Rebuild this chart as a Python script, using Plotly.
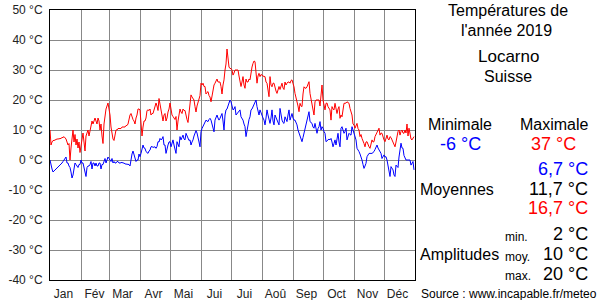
import plotly.graph_objects as go

# ---- data -------------------------------------------------------------
month_names = ["Jan", "Fév", "Mar", "Avr", "Mai", "Jui", "Jui", "Aoû", "Sep", "Oct", "Nov", "Déc"]
month_starts = [0, 31, 59, 90, 120, 151, 181, 212, 243, 273, 304, 334, 365]

tmax = [
    # Jan
    10, 5, 6, 6.5, 6.5, 6.7, 6.7, 7, 7, 7, 7, 7.2, 7.5, 7.5, 7.8, 7.5, 7, 6, 5, 5.5, 0, 4, 7, 10, 6, 8.5, 5, 7, 4, 6, 2.5,
    # Feb
    5, 7, 9, 6, 3, 8, 9, 10, 8, 10, 11, 13, 12, 13.5, 14, 13, 12, 14, 13, 10, 12, 8, 5.5, 12, 15.5, 17, 18, 19,
    # Mar
    17, 15, 11, 8, 7, 6.5, 9, 10, 10, 10.5, 10.5, 10.5, 10.5, 11, 11, 11, 11, 11.5, 11.5, 12, 14, 15, 15.5, 14, 13.5, 13, 12, 14, 15, 17, 17,
    # Apr
    16.7, 13, 8, 11, 13, 13, 14, 16.5, 16.7, 16.5, 17, 15, 15.5, 15.5, 17, 17.5, 19, 18, 16.5, 20.5, 18.5, 16, 14, 13, 15, 15.5, 13, 14, 16, 17,
    # May
    19, 16.5, 15, 14.5, 14, 13.5, 14.5, 10, 13, 15.5, 17, 16, 15.5, 17, 16.5, 16.5, 14.5, 13.5, 12.5, 15, 18, 21.7, 21, 20.5, 20, 17.8, 16, 18, 19, 20.5, 21.5,
    # Jun
    25.6, 25, 25.6, 24.5, 24.5, 22, 22.5, 22.8, 21.5, 21, 19.4, 21.5, 23.5, 25, 25.6, 26.7, 27, 26, 26, 26, 24.5, 22, 25, 26.7, 30, 32, 37, 34, 31, 30.5,
    # Jul
    30.5, 30, 28.3, 29, 30, 30, 30, 30, 28, 25.6, 24.5, 26, 27.8, 25, 23.9, 27, 26, 26, 27, 26.7, 30, 31, 32.2, 33, 32.8, 30, 25.6, 28, 28.9, 27.8, 28.5,
    # Aug
    28.3, 28, 27.8, 27.8, 26, 25.6, 23, 21.1, 27.8, 25, 24.4, 25.6, 25.6, 24, 23, 22.2, 24, 24.5, 23.5, 24.5, 25.6, 24, 23.5, 26, 25, 25.6, 26, 26, 25.6, 26.5, 26.7,
    # Sep
    25.5, 24.4, 22.2, 21, 20, 18, 16.1, 18.9, 18, 17.8, 22, 24.4, 24, 23.9, 24.4, 25, 26.1, 22.2, 20, 17.8, 16, 15, 19.4, 20, 20, 20, 20, 18, 22, 25,
    # Oct
    20, 18, 16.7, 18.9, 19, 17.8, 17, 16.7, 13.3, 17.8, 17, 16.7, 18.9, 17, 15.5, 17, 17.8, 13.9, 15, 14.4, 17, 18.9, 18.9, 19, 19.4, 19, 18.9, 17.2, 16, 15, 12,
    # Nov
    11.7, 10.6, 11.5, 12.2, 10.5, 10, 7.8, 8.5, 7.2, 6.5, 5.5, 4.4, 6, 6.1, 5, 4.4, 3.9, 5.5, 6.7, 6, 6.1, 7.8, 8.5, 8.9, 9.5, 10.6, 8.3, 9, 8.9, 7.5,
    # Dec
    6.7, 6.1, 7.5, 8.3, 7, 6.7, 7.8, 7.5, 6.7, 6, 5, 4.4, 6, 7.8, 9.5, 10, 8.3, 9.5, 10, 9, 8.9, 10, 9, 12, 8, 10.6, 8.9, 7, 6.7, 7.5, 7.8,
]

tmin = [
    # Jan
    0, -2, -3, -4, -3.7, -3.3, -3, -2.7, -2.3, -2, -1.7, -1.3, -1, -0.5, 0, 0.5, 1, -1, -1, -2, -2.5, -4, -6, -5, -2, -1, -1.5, -2, -2.5, -1.5, -1.5,
    # Feb
    0, -1, -1, -3, -4.5, -5.5, -2.5, -2, -2, -1.5, -0.5, -3, -1, -1, -2, -1, -2, -2, -1, -1, -3, -1.5, -1.5, -0.5, 0.5, -1, 0, 1,
    # Mar
    0.5, 0, -0.5, 0.5, -1, -0.5, -1, -1, -0.5, -0.5, -1, -1, -0.8, -0.8, -1, -1, -1.3, -1.3, -1.5, -1.5, -1.5, -2, 0.5, 2, 3, 1.5, 0.5, -0.5, 0, 0, 2,
    # Apr
    1.1, 2.2, 4, 5, 4, 3.9, 2.8, 2.5, 2.2, 3, 3.3, 4.4, 4.5, 4.2, 4.4, 4.4, 3.9, 4.5, 6.1, 6, 7.2, 6.7, 7, 7.8, 5, 5, 2.2, 4, 5, 6,
    # May
    6.1, 4.4, 5.5, 6.7, 5, 3.9, 2.2, 6.1, 5, 4.4, 7.8, 6.7, 7.5, 8.3, 7, 6.7, 8.9, 8, 7.8, 6.5, 6.7, 5, 6, 6.7, 8, 8.9, 9.8, 9, 7.8, 6, 4.4,
    # Jun
    9.4, 10.5, 11.1, 12, 12.8, 13.3, 13, 12.8, 13.5, 13.9, 13.3, 12, 10.6, 9.4, 13.3, 14.5, 15, 14, 13.3, 13.9, 14.5, 15.5, 13, 10, 15, 16.7, 17, 17.8, 19, 20,
    # Jul
    19.4, 18, 16.7, 17, 17.8, 15, 15.5, 16.1, 16.5, 16.7, 14.4, 14, 13.3, 12, 11.1, 7.8, 10, 12.2, 13.5, 14.4, 16.7, 17, 17.8, 18.5, 19.4, 20, 17.8, 16, 15, 16.7, 15.5,
    # Aug
    15, 14, 13.3, 11.7, 14, 16.7, 15, 13.3, 12.2, 14, 16.7, 13, 11.7, 15, 14, 13.3, 12.5, 11.7, 17.2, 15, 13.3, 12.5, 12.2, 14.4, 13.5, 12.8, 15, 16.7, 13.3, 14.5, 15.5,
    # Sep
    14, 13.3, 13.3, 12.5, 11.7, 10, 8.9, 7.8, 7, 6.1, 7.5, 8.9, 10, 11.5, 12.8, 14, 16.1, 12.8, 12.5, 12.2, 11, 10.6, 12.2, 10, 8.9, 10.5, 11.1, 12.8, 10, 11.1,
    # Oct
    10.6, 9.5, 8.9, 6.1, 6.5, 6.7, 7, 6.7, 7.2, 6, 4.4, 5.5, 6.7, 5, 7, 8.9, 6, 4.4, 10.6, 11.1, 10, 8.9, 9.5, 10.6, 6.7, 8, 8.9, 8.5, 8.3, 11.1, 10,
    # Nov
    8.9, 7.5, 6.7, 3.9, 3, 2.8, 2, 1.1, 0, -1.5, -2.8, -2, -1.1, 1.1, 2, 2.2, 2.2, 2.2, 2.2, 2.5, 2.8, 3.5, 4.4, 5, 4, 3.3, 2.5, 2.2, 0.5, 1,
    # Dec
    1.7, 1, 1.1, 0, -2, -4.4, -5.5, -2.2, -3, -3.3, -5, -5.5, -1.7, -2.2, -2.5, 1, 3.3, 5.6, 4, 3.9, 1.5, 0.5, 0, 0, 0, 0, 0, -1.7, -1, -0.5, -3.3,
]

ytick_vals = [-40, -30, -20, -10, 0, 10, 20, 30, 40, 50]
ytick_text = ["-40 °C", "-30 °C", "-20 °C", "-10 °C", "0 °C", "10 °C", "20 °C", "30 °C", "40 °C", "50 °C"]

title_lines = ["Températures de", "l'année 2019"]
city, country = "Locarno", "Suisse"
stat_min, stat_max = "-6 °C", "37 °C"
avg_min, avg_all, avg_max = "6,7 °C", "11,7 °C", "16,7 °C"
amp_min, amp_avg, amp_max = "2 °C", "10 °C", "20 °C"
source = "Source : www.incapable.fr/meteo"

# ---- figure -------------------------------------------------------------
days = list(range(len(tmax)))
label_pos = [s + 13.5 for s in month_starts[:-1]]

FONT = "Liberation Sans, Arial, sans-serif"
L, R, T, B = 50, 185, 10, 20
W, H = 600, 300

fig = go.Figure()
fig.add_trace(go.Scatter(x=days, y=tmax, mode="lines",
                         line=dict(color="#ff0000", width=1), hoverinfo="skip"))
fig.add_trace(go.Scatter(x=days, y=tmin, mode="lines",
                         line=dict(color="#0000ff", width=1), hoverinfo="skip"))

fig.update_layout(
    width=W, height=H,
    margin=dict(l=L, r=R, t=T, b=B, pad=0, autoexpand=False),
    paper_bgcolor="white", plot_bgcolor="white",
    showlegend=False,
    font=dict(family=FONT, size=12, color="#222"),
    xaxis=dict(
        range=[0, 365], tickmode="array", tickvals=label_pos, ticktext=month_names,
        showgrid=False, zeroline=False, showline=True, linecolor="black", linewidth=1,
        mirror=True, ticks="outside", ticklen=3, tickcolor="rgba(0,0,0,0)",
        tickfont=dict(size=12, color="#222"), automargin=False,
        minor=dict(tickmode="array", tickvals=month_starts, showgrid=True,
                   gridcolor="#888888", gridwidth=1, ticks=""),
        fixedrange=True,
    ),
    yaxis=dict(
        range=[-40, 50], tickmode="array", tickvals=ytick_vals, ticktext=ytick_text,
        showgrid=True, gridcolor="#888888", gridwidth=1, zeroline=False,
        showline=True, linecolor="black", linewidth=1, mirror=True,
        ticks="outside", ticklen=4, tickcolor="rgba(0,0,0,0)", automargin=False,
        tickfont=dict(size=12, color="#222"), fixedrange=True,
    ),
)

pw, ph = W - L - R, H - T - B


def px(x):
    return (x - L) / pw


def py(y):
    return (H - B - y) / ph


def note(text, x, y, size=16, color="black", xanchor="center"):
    fig.add_annotation(text=text, x=px(x), y=py(y), xref="paper", yref="paper",
                       xanchor=xanchor, yanchor="middle", showarrow=False,
                       borderpad=0,
                       font=dict(family=FONT, size=size, color=color))


note(title_lines[0], 508, 10)
note(title_lines[1], 506, 30)
note(city, 508, 57, size=17)
note(country, 508, 76)
note("Minimale", 460, 124.5)
note("Maximale", 554, 124.5)
note(stat_min, 460, 143.5, size=18, color="#0000ff")
note(stat_max, 553, 143.5, size=18, color="#ff0000")
note(avg_min, 589, 168.5, size=18, color="#0000ff", xanchor="right")
note("Moyennes", 419, 189, xanchor="left")
note(avg_all, 589, 188.5, size=18, xanchor="right")
note(avg_max, 589, 208.3, size=18, color="#ff0000", xanchor="right")
note("min.", 504, 236.5, size=12, xanchor="left")
note(amp_min, 589, 234, size=18, xanchor="right")
note("Amplitudes", 419, 254.3, xanchor="left")
note("moy.", 504, 256.5, size=12, xanchor="left")
note(amp_avg, 589, 254, size=18, xanchor="right")
note("max.", 504, 275.7, size=12, xanchor="left")
note(amp_max, 589, 273.7, size=18, xanchor="right")
note(source, 420, 293.7, size=12, xanchor="left")

fig.write_html("out.html")
